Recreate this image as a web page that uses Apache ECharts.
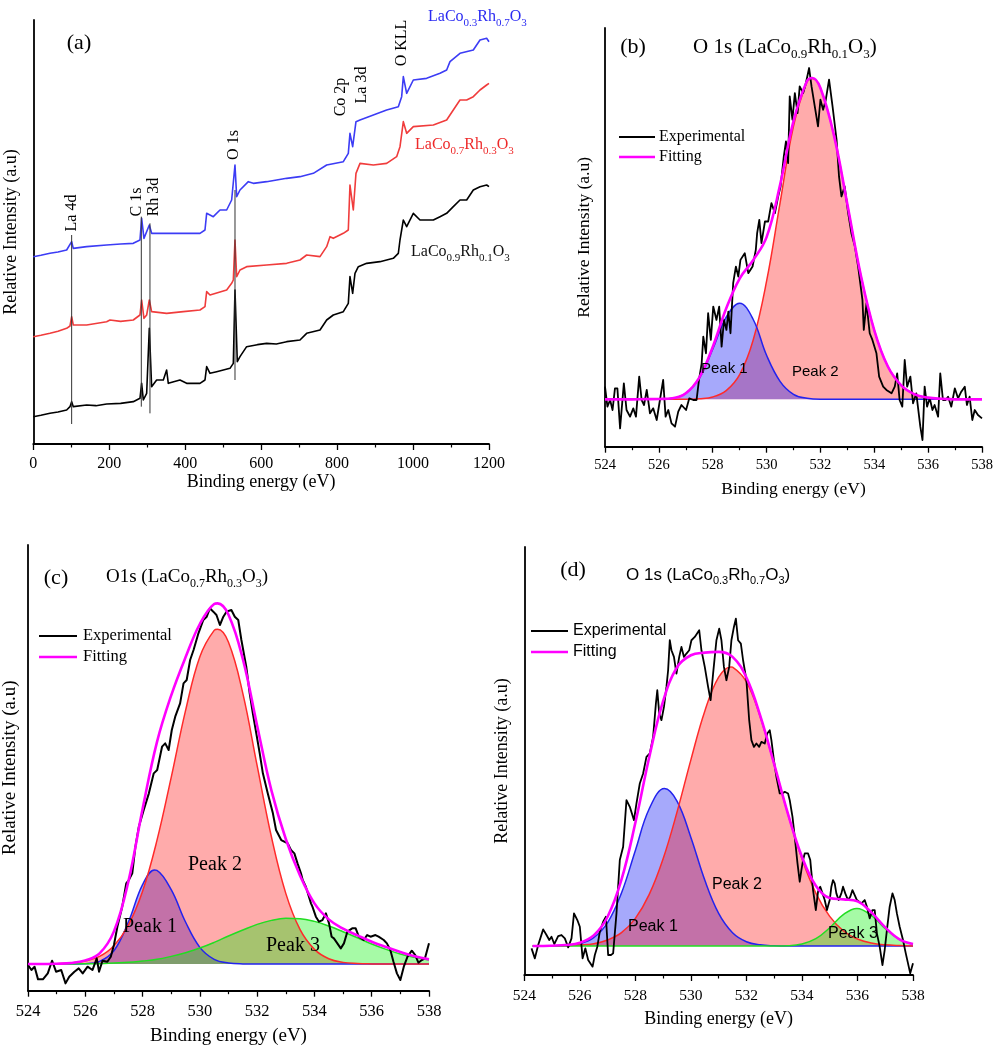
<!DOCTYPE html>
<html>
<head>
<meta charset="utf-8">
<script src="https://cdn.jsdelivr.net/npm/echarts@6/dist/echarts.min.js"></script>
<style>
html,body{margin:0;padding:0;background:#fff;}
#chart{width:1004px;height:1047px;}
</style>
</head>
<body>
<div id="chart"></div>
<script>
// ---------------- DATA (y in arbitrary units) ----------------
// Panel (a): XPS survey spectra  [binding energy (eV), intensity]
const surveyRh01 = [[0,82],[20,86],[43.9,92],[65,96],[87.8,102],[96.6,112],[101,127],[105.3,112],[140.5,117],[165,115],[193.1,120],[230,122],[263.3,127],[280.9,137],[285.3,182],[289.7,132],[298.5,152],[305.5,347],[311.6,172],[324.8,192],[342.4,192],[351.1,222],[355.5,182],[386.2,192],[403.8,182],[438.9,182],[452.1,192],[456.5,232],[465.3,212],[482.8,217],[517.9,227],[526.7,242],[531.1,462],[537.2,247],[544.3,262],[561.8,292],[590,298],[614.5,302],[640,300],[667.2,307],[702.3,312],[719.8,332],[755,342],[772.5,372],[790,387],[816.4,397],[829.5,422],[833.9,502],[841,452],[847.1,512],[855.9,532],[877.8,542],[912.9,547],[948,557],[961.2,572],[965.6,612],[974.4,672],[983.2,652],[1000.7,692],[1018.3,672],[1053.4,672],[1071,682],[1088.5,692],[1106,712],[1123.6,732],[1141.2,732],[1158.7,762],[1176.3,772],[1193.8,777],[1200,772]];
const surveyRh03 = [[0,322],[20,326],[43.9,332],[65,338],[87.8,347],[96.6,354],[101,382],[105.3,357],[140.5,357],[193.1,367],[201.9,372],[230,368],[263.3,372],[280.9,387],[285.3,432],[291.4,377],[298.5,387],[305.5,432],[311.6,397],[351.1,392],[395,397],[438.9,402],[452.1,412],[456.5,457],[465.3,447],[509.2,462],[522.3,482],[526.7,492],[531.1,612],[535.5,502],[544.3,522],[561.8,532],[614.5,537],[667.2,542],[702.3,552],[719.8,567],[755,562],[772.5,592],[781.3,622],[790,617],[816.4,632],[829.5,642],[833.9,777],[842.7,702],[849.7,812],[860.3,842],[895.4,837],[930.5,842],[956.8,862],[965.6,892],[974.4,967],[983.2,932],[1000.7,952],[1053.4,957],[1088.5,972],[1106,1002],[1123.6,1032],[1141.2,1032],[1158.7,1042],[1176.3,1062],[1193.8,1077],[1200,1082]];
const surveyRh07 = [[0,562],[20,566],[43.9,572],[65,576],[87.8,582],[101,607],[105.3,587],[140.5,592],[193.1,597],[230,600],[263.3,602],[280.9,612],[285.3,677],[291.4,617],[305.5,657],[311.6,632],[351.1,632],[395,632],[438.9,632],[452.1,642],[456.5,692],[474,682],[491.6,702],[509.2,702],[522.3,732],[526.7,737],[531.1,837],[535.5,742],[544.3,762],[566.2,787],[579.4,782],[614.5,787],[667.2,797],[702.3,802],[737.4,812],[772.5,837],[816.4,847],[829.5,872],[833.9,932],[841,892],[849.7,967],[860.3,972],[895.4,987],[930.5,1002],[961.2,1012],[970,1042],[974.4,1102],[983.2,1052],[1000.7,1092],[1035.8,1097],[1071,1112],[1088.5,1122],[1097.3,1147],[1123.6,1172],[1158.7,1182],[1176.3,1212],[1193.8,1217],[1200,1207]];
const surveyMarkerNames = ['La 4d','C 1s','Rh 3d','O 1s'];
const surveyMarkerEnergy = [101, 284.4, 307.2, 531.1];
const surveyMarkerLow = [60, 112, 92, 192];
const surveyMarkerHigh = [627, 682, 662, 762];

// Panel (b): O 1s LaCo0.9Rh0.1O3
const baseB = 142;
const bExp = [[524.00,180],[524.09,120],[524.19,140],[524.28,110],[524.37,175],[524.46,175],[524.56,55],[524.70,190],[524.80,110],[524.93,90],[525.05,115],[525.15,90],[525.27,210],[525.36,140],[525.45,125],[525.55,170],[525.67,100],[525.79,115],[525.92,80],[526.04,140],[526.16,200],[526.25,90],[526.35,110],[526.47,70],[526.60,60],[526.72,105],[526.84,125],[527.01,110],[527.13,145],[527.28,140],[527.40,140],[527.49,200],[527.59,250],[527.65,330],[527.75,280],[527.83,400],[527.93,320],[528.02,420],[528.14,380],[528.24,420],[528.33,300],[528.42,380],[528.51,350],[528.58,405],[528.66,340],[528.76,490],[528.86,540],[528.95,510],[529.03,560],[529.19,580],[529.32,520],[529.48,540],[529.60,590],[529.65,640],[529.73,680],[529.81,610],[529.94,675],[530.06,675],[530.18,730],[530.31,700],[530.43,750],[530.52,780],[530.64,870],[530.72,915],[530.80,850],[530.86,1050],[530.96,980],[531.05,1060],[531.15,1000],[531.23,1080],[531.36,1060],[531.46,1090],[531.58,1135],[531.67,1080],[531.79,1020],[531.91,960],[532.00,1040],[532.10,1010],[532.20,1040],[532.32,1100],[532.45,1020],[532.60,920],[532.69,810],[532.78,750],[532.90,780],[533.03,700],[533.15,640],[533.28,600],[533.40,540],[533.56,440],[533.61,350],[533.71,430],[533.83,340],[533.93,320],[534.08,280],[534.18,210],[534.33,180],[534.45,170],[534.64,160],[534.76,180],[534.85,220],[534.94,140],[535.04,120],[535.13,260],[535.22,180],[535.34,210],[535.44,130],[535.56,160],[535.71,60],[535.79,20],[535.87,180],[535.96,120],[536.06,145],[536.16,110],[536.24,125],[536.37,90],[536.45,220],[536.55,140],[536.65,140],[536.74,150],[536.86,120],[536.99,175],[537.11,145],[537.23,165],[537.36,180],[537.44,125],[537.54,150],[537.64,80],[537.73,110],[537.85,95],[538.00,85]];
const bFit = [[524,142],[524.5,142],[525,142],[525.5,142.5],[526,143],[526.5,145],[527,160],[527.5,207],[528,299],[528.5,414],[529,504],[529.5,559],[530,628],[530.5,784],[531,976],[531.5,1096],[531.7,1105],[532,1075],[532.5,934],[533,727],[533.5,514],[534,349],[534.5,241],[535,184],[535.5,157],[536,147],[536.5,143.5],[537,142],[537.5,142],[538,142]];
const bPeak1 = [[524,142],[524.5,142],[525,142],[525.5,142],[526,142],[526.5,145],[527,160],[527.5,205],[528,292],[528.5,388],[529,430],[529.5,382],[530,274],[530.5,196],[531,157],[531.5,145],[532,142],[532.5,142],[533,142],[534,142],[535,142],[536,142],[537,142],[538,142]];
const bPeak2 = [[524,142],[525,142],[526,142],[527,142],[527.5,144],[528,149],[528.5,168],[529,216],[529.5,319],[530,496],[530.5,730],[531,961],[531.5,1093],[531.7,1104],[532,1075],[532.5,934],[533,727],[533.5,514],[534,349],[534.5,241],[535,184],[535.5,157],[536,147],[536.5,143.5],[537,142],[537.5,142],[538,142]];

// Panel (c): O1s LaCo0.7Rh0.3O3
const baseC = 80;
const cExp = [[524.00,77],[524.12,62],[524.23,72],[524.35,34],[524.52,34],[524.69,52],[524.84,90],[524.98,57],[525.16,62],[525.31,22],[525.44,42],[525.62,57],[525.77,67],[525.91,52],[526.08,72],[526.25,62],[526.40,97],[526.48,57],[526.60,90],[526.77,87],[526.89,102],[527.00,137],[527.12,192],[527.29,252],[527.43,322],[527.52,332],[527.64,352],[527.75,432],[527.87,492],[528.04,542],[528.22,592],[528.39,652],[528.51,662],[528.68,732],[528.79,742],[528.91,722],[529.02,782],[529.14,822],[529.31,862],[529.43,922],[529.54,932],[529.66,992],[529.78,1022],[529.95,1072],[530.12,1112],[530.24,1122],[530.35,1147],[530.47,1137],[530.58,1127],[530.70,1097],[530.82,1122],[530.93,1137],[531.10,1142],[531.22,1122],[531.34,1112],[531.45,1052],[531.62,972],[531.74,892],[531.85,832],[531.97,772],[532.09,712],[532.20,652],[532.37,592],[532.55,532],[532.66,482],[532.84,452],[533.07,442],[533.18,422],[533.30,412],[533.41,382],[533.53,352],[533.59,332],[533.70,312],[533.88,262],[533.93,252],[534.05,222],[534.16,207],[534.28,212],[534.40,232],[534.51,202],[534.60,162],[534.68,157],[534.80,142],[534.92,127],[535.03,142],[535.15,177],[535.32,187],[535.44,187],[535.55,162],[535.72,152],[535.84,167],[535.96,162],[536.13,167],[536.24,162],[536.42,152],[536.53,142],[536.65,122],[536.76,87],[536.88,52],[537.00,32],[537.12,72],[537.25,102],[537.40,120],[537.52,107],[537.63,84],[537.75,92],[537.86,97],[538.00,142]];
const cFit = [[524,80],[524.5,80],[525,81],[525.5,83],[526,91],[526.5,112],[527,178],[527.5,326],[528,545],[528.5,745],[529,886],[529.5,1000],[530,1100],[530.5,1160],[530.62,1162],[531,1128],[531.5,995],[532,795],[532.5,600],[533,455],[533.5,345],[534,262],[534.5,214],[535,186],[535.5,166],[536,147],[536.5,131],[537,116],[537.5,103],[538,94]];
const cPeak1 = [[524,80],[525,80],[525.5,80],[526,81],[526.5,88],[527,120],[527.5,205],[528,318],[528.42,362],[528.5,361],[529,303],[529.5,206],[530,130],[530.5,94],[531,83],[531.5,80.4],[532,80],[533,80],[534,80],[535,80],[536,80],[537,80],[538,80]];
const cPeak2 = [[524,80],[524.5,80],[525,81],[525.5,83],[526,89],[526.5,103],[527,135],[527.5,196],[528,298],[528.5,450],[529,640],[529.5,840],[530,1002],[530.5,1081],[530.62,1084],[531,1045],[531.5,892],[532,675],[532.5,461],[533,292],[533.5,183],[534,124],[534.5,96],[535,85],[535.5,81.5],[536,80.4],[536.5,80],[537,80],[538,80]];
const cPeak3 = [[524,80],[524.5,80],[525,80],[525.5,80],[526,81],[526.5,81],[527,83],[527.5,85],[528,89],[528.5,94],[529,103],[529.5,114],[530,128],[530.5,145],[531,164],[531.5,182],[532,199],[532.5,211],[533,217],[533.5,216],[534,208],[534.5,194],[535,177],[535.5,159],[536,140],[536.5,124],[537,110],[537.5,100],[538,92]];

// Panel (d): O 1s LaCo0.3Rh0.7O3
const baseD = 87;
const dExp = [[524.26,80],[524.38,50],[524.50,90],[524.68,137],[524.80,120],[524.90,105],[524.98,115],[525.08,93],[525.22,117],[525.34,120],[525.46,110],[525.58,83],[525.70,110],[525.79,185],[525.91,165],[526.00,145],[526.10,50],[526.20,80],[526.30,45],[526.46,25],[526.54,60],[526.63,85],[526.72,130],[526.84,160],[526.94,175],[527.02,60],[527.12,60],[527.20,65],[527.32,185],[527.44,345],[527.56,385],[527.68,525],[527.80,505],[527.95,465],[528.04,515],[528.16,575],[528.28,605],[528.40,655],[528.52,665],[528.64,715],[528.74,815],[528.79,855],[528.86,785],[528.94,765],[529.03,805],[529.12,865],[529.18,915],[529.24,1005],[529.30,975],[529.39,955],[529.48,905],[529.58,955],[529.66,985],[529.75,955],[529.84,965],[529.94,975],[530.02,1005],[530.14,1015],[530.30,1035],[530.38,975],[530.50,925],[530.62,865],[530.71,825],[530.80,905],[530.92,1005],[531.02,1040],[531.10,1005],[531.19,925],[531.28,885],[531.38,925],[531.46,1005],[531.55,1045],[531.62,1070],[531.70,1005],[531.80,995],[531.88,945],[532.00,885],[532.10,765],[532.18,705],[532.27,685],[532.36,695],[532.46,685],[532.54,700],[532.66,695],[532.75,725],[532.84,735],[532.90,705],[532.99,645],[533.08,595],[533.20,545],[533.30,545],[533.38,550],[533.50,545],[533.56,525],[533.66,475],[533.74,415],[533.84,335],[533.92,280],[533.98,315],[534.04,345],[534.10,365],[534.22,365],[534.30,345],[534.40,255],[534.50,195],[534.58,250],[534.66,265],[534.74,245],[534.82,225],[534.90,195],[535.00,225],[535.06,265],[535.12,285],[535.18,275],[535.24,245],[535.32,225],[535.42,245],[535.48,265],[535.56,245],[535.66,225],[535.74,235],[535.82,255],[535.90,240],[535.98,225],[536.06,220],[536.14,215],[536.26,225],[536.34,205],[536.44,170],[536.54,195],[536.62,195],[536.70,125],[536.80,85],[536.90,30],[536.98,75],[537.06,135],[537.16,205],[537.26,245],[537.34,225],[537.42,185],[537.52,145],[537.64,105],[537.74,65],[537.82,35],[537.90,5],[538.00,35]];
const dFit = [[524.3,87],[524.5,87],[525,88],[525.5,90],[526,97],[526.5,119],[527,175],[527.5,286],[528,457],[528.5,654],[529,822],[529.5,924],[530,960],[530.5,968],[531,970],[531.5,955],[532,893],[532.5,778],[533,633],[533.5,483],[534,355],[534.5,268],[535,231],[535.5,227],[536,221],[536.5,188],[537,143],[537.5,108],[538,93]];
const dPeak1 = [[524.3,87],[524.5,87],[525,87.3],[525.5,88.6],[526,94],[526.5,112],[527,157],[527.5,246],[528,374],[528.5,499],[529.05,560],[529.5,522],[530,413],[530.5,285],[531,185],[531.5,127],[532,100],[532.5,90.5],[533,87.8],[533.5,87],[534,87],[535,87],[536,87],[537,87],[538,87]];
const dPeak2 = [[524.3,87],[524.5,87],[525,87.3],[525.5,88],[526,90],[526.5,94],[527,105],[527.5,127],[528,170],[528.5,242],[529,349],[529.5,489],[530,646],[530.5,792],[531,894],[531.44,925],[531.5,924],[532,880],[532.5,774],[533,632],[533.5,482],[534,349],[534.5,246],[535,176],[535.5,132],[536,108],[536.5,96],[537,90.5],[537.5,88.3],[538,87.4]];
const dPeak3 = [[524.3,87],[526,87],[528,87],[530,87],[532,87],[532.5,87],[533,87.2],[533.5,88],[534,93],[534.5,109],[535,142],[535.5,182],[535.98,200],[536.5,179],[537,139],[537.5,107],[538,92]];

// ---------------- STYLE ----------------
const SERIF = "'Liberation Serif','Times New Roman',serif";
const SANS = "'Liberation Sans',Arial,sans-serif";
const C_BLACK = '#000000', C_MAG = '#ff00ff';
const C_BLUE_LINE = '#2323ee', C_RED_LINE = '#ff2a2a', C_GREEN_LINE = '#22dd22';
const F_BLUE = 'rgba(20,30,245,0.38)', F_RED = 'rgba(255,0,0,0.33)', F_GREEN = 'rgba(0,240,0,0.35)';

const grids = [
  {left:33.3, top:20, width:455.7, height:424},
  {left:605, top:28, width:377, height:418.7},
  {left:25, top:545, width:404, height:445.7},
  {left:524.3, top:547, width:388.7, height:428}
];
const panelAxes = [
  {min:0, max:1200, interval:200, ymax:1272, tick:16, title:18, lblMargin:12, xGap:29, yGap:13},
  {min:524, max:538, interval:2, ymax:1255, tick:14.5, title:17.5, lblMargin:11, xGap:34, yGap:12},
  {min:524, max:538, interval:2, ymax:1337, tick:16.5, title:19, lblMargin:12, xGap:36, yGap:8},
  {min:524, max:538, interval:2, ymax:1285, tick:15.5, title:18, lblMargin:13, xGap:35, yGap:13}
];

const xAxes = panelAxes.map((p, i) => ({
  type:'value', gridIndex:i, min:p.min, max:p.max, interval:p.interval,
  axisLine:{show:true, onZero:false, lineStyle:{color:'#000', width:1.8}},
  axisTick:{show:true, inside:false, length:6, lineStyle:{color:'#000', width:1.3}},
  minorTick:{show:true, splitNumber:2, length:3.5, lineStyle:{color:'#000', width:1.2}},
  axisLabel:{color:'#000', fontFamily:SERIF, fontSize:p.tick, margin:p.lblMargin, formatter:(v) => String(v)},
  splitLine:{show:false}, minorSplitLine:{show:false},
  name:'Binding energy (eV)', nameLocation:'middle', nameGap:p.xGap,
  nameTextStyle:{color:'#000', fontFamily:SERIF, fontSize:p.title}
}));
const yAxes = panelAxes.map((p, i) => ({
  type:'value', gridIndex:i, min:0, max:p.ymax,
  axisLine:{show:true, onZero:false, lineStyle:{color:'#000', width:1.8}},
  axisTick:{show:false}, axisLabel:{show:false}, splitLine:{show:false},
  name:'Relative Intensity (a.u)', nameLocation:'middle', nameGap:p.yGap, nameRotate:90,
  nameTextStyle:{color:'#000', fontFamily:SERIF, fontSize:p.title}
}));

function curve(gi, data, color, width, extra) {
  return Object.assign({
    type:'line', xAxisIndex:gi, yAxisIndex:gi, data:data, symbol:'none', showSymbol:false,
    silent:true, animation:false, clip:true,
    lineStyle:{color:color, width:width, join:'round'}, itemStyle:{color:color}
  }, extra || {});
}
function peak(gi, data, color, fill, base) {
  return curve(gi, data, color, 1.5, {smooth:0.4, areaStyle:{color:fill, origin:base, opacity:1}});
}

const series = [];
// (a)
series.push(curve(0, surveyRh01, '#000000', 1.6));
series.push(curve(0, surveyRh03, '#f03c3c', 1.6));
series.push(curve(0, surveyRh07, '#3c3cf5', 1.6));
surveyMarkerNames.forEach((n, k) => {
  series.push(curve(0, [[surveyMarkerEnergy[k], surveyMarkerLow[k]], [surveyMarkerEnergy[k], surveyMarkerHigh[k]]], '#333', 1));
});
// (b)
series.push(peak(1, bPeak2, C_RED_LINE, F_RED, baseB));
series.push(peak(1, bPeak1, C_BLUE_LINE, F_BLUE, baseB));
series.push(curve(1, bExp, C_BLACK, 1.8));
series.push(curve(1, bFit, C_MAG, 2.6, {smooth:0.4}));
// (c)
series.push(peak(2, cPeak1, C_BLUE_LINE, F_BLUE, baseC));
series.push(peak(2, cPeak2, C_RED_LINE, F_RED, baseC));
series.push(peak(2, cPeak3, C_GREEN_LINE, F_GREEN, baseC));
series.push(curve(2, cExp, C_BLACK, 2));
series.push(curve(2, cFit, C_MAG, 2.6, {smooth:0.4}));
// (d)
series.push(peak(3, dPeak1, C_BLUE_LINE, F_BLUE, baseD));
series.push(peak(3, dPeak2, C_RED_LINE, F_RED, baseD));
series.push(peak(3, dPeak3, C_GREEN_LINE, F_GREEN, baseD));
series.push(curve(3, dExp, C_BLACK, 1.8));
series.push(curve(3, dFit, C_MAG, 2.6, {smooth:0.4}));

// ---------------- TEXT / ANNOTATIONS ----------------
function txt(x, y, text, size, family, color, o) {
  o = o || {};
  const subSize = o.sub || Math.round(size * 0.65);
  const st = {
    text:text, fontSize:size, fontFamily:family, fill:color || '#000',
    align:o.align || 'left', verticalAlign:'middle',
    textAlign:o.align || 'left', textVerticalAlign:'middle',
    rich:{ s:{fontSize:subSize, fontFamily:family, fill:color || '#000', padding:[o.pad || Math.round(size*0.5),0,0,0]} }
  };
  return {type:'text', x:x, y:y, rotation:o.rot || 0, style:st, silent:true, z:100};
}
function seg(x1, y1, x2, y2, color, w) {
  return {type:'line', shape:{x1:x1, y1:y1, x2:x2, y2:y2}, style:{stroke:color, lineWidth:w}, silent:true, z:100};
}
const R90 = Math.PI / 2;
const graphics = [
  // (a)
  txt(79, 43, '(a)', 22, SERIF, '#000', {align:'center'}),
  txt(71.7, 213, 'La 4d', 16, SERIF, '#000', {align:'center', rot:R90}),
  txt(136.7, 202, 'C 1s', 16, SERIF, '#000', {align:'center', rot:R90}),
  txt(153.7, 197, 'Rh 3d', 16, SERIF, '#000', {align:'center', rot:R90}),
  txt(233.3, 145, 'O 1s', 16, SERIF, '#000', {align:'center', rot:R90}),
  txt(340.7, 97, 'Co 2p', 16, SERIF, '#000', {align:'center', rot:R90}),
  txt(361.7, 85, 'La 3d', 16, SERIF, '#000', {align:'center', rot:R90}),
  txt(401.7, 43, 'O KLL', 16, SERIF, '#000', {align:'center', rot:R90}),
  txt(428, 17, 'LaCo{s|0.3}Rh{s|0.7}O{s|3}', 16, SERIF, '#2a2af2', {sub:11, pad:12}),
  txt(415, 145, 'LaCo{s|0.7}Rh{s|0.3}O{s|3}', 16, SERIF, '#ee2a2a', {sub:11, pad:12}),
  txt(411, 252, 'LaCo{s|0.9}Rh{s|0.1}O{s|3}', 16, SERIF, '#111', {sub:11, pad:12}),
  // (b)
  txt(633, 47, '(b)', 22, SERIF, '#000', {align:'center'}),
  txt(693, 47, 'O 1s (LaCo{s|0.9}Rh{s|0.1}O{s|3})', 21, SERIF, '#000', {sub:13, pad:15}),
  seg(619, 137, 655, 137, C_BLACK, 2.2),
  seg(619, 157, 655, 157, C_MAG, 2.6),
  txt(659, 137, 'Experimental', 16, SERIF, '#000'),
  txt(659, 157, 'Fitting', 16, SERIF, '#000'),
  txt(701, 369, 'Peak 1', 15, SANS, '#000'),
  txt(792, 372, 'Peak 2', 15, SANS, '#000'),
  // (c)
  txt(56, 578, '(c)', 22, SERIF, '#000', {align:'center'}),
  txt(106, 577, 'O1s (LaCo{s|0.7}Rh{s|0.3}O{s|3})', 19, SERIF, '#000', {sub:12, pad:14}),
  seg(39, 636, 77, 636, C_BLACK, 2.2),
  seg(39, 657, 77, 657, C_MAG, 2.6),
  txt(83, 636, 'Experimental', 16.5, SERIF, '#000'),
  txt(83, 657, 'Fitting', 16.5, SERIF, '#000'),
  txt(188, 865, 'Peak 2', 20, SERIF, '#000'),
  txt(123, 927, 'Peak 1', 20, SERIF, '#000'),
  txt(266, 946, 'Peak 3', 20, SERIF, '#000'),
  // (d)
  txt(573, 570, '(d)', 22, SERIF, '#000', {align:'center'}),
  txt(626, 575, 'O 1s (LaCo{s|0.3}Rh{s|0.7}O{s|3})', 17, SANS, '#000', {sub:11, pad:12}),
  seg(531, 631, 568, 631, C_BLACK, 2.2),
  seg(531, 652, 568, 652, C_MAG, 2.6),
  txt(573, 631, 'Experimental', 16, SANS, '#000'),
  txt(573, 652, 'Fitting', 16, SANS, '#000'),
  txt(628, 927, 'Peak 1', 16, SANS, '#000'),
  txt(712, 885, 'Peak 2', 16, SANS, '#000'),
  txt(828, 934, 'Peak 3', 16, SANS, '#000')
];

const chart = echarts.init(document.getElementById('chart'), null, {renderer:'canvas'});
chart.setOption({
  backgroundColor:'#ffffff',
  animation:false,
  textStyle:{fontFamily:SERIF},
  grid:grids,
  xAxis:xAxes,
  yAxis:yAxes,
  series:series,
  graphic:graphics
});
</script>
</body>
</html>
